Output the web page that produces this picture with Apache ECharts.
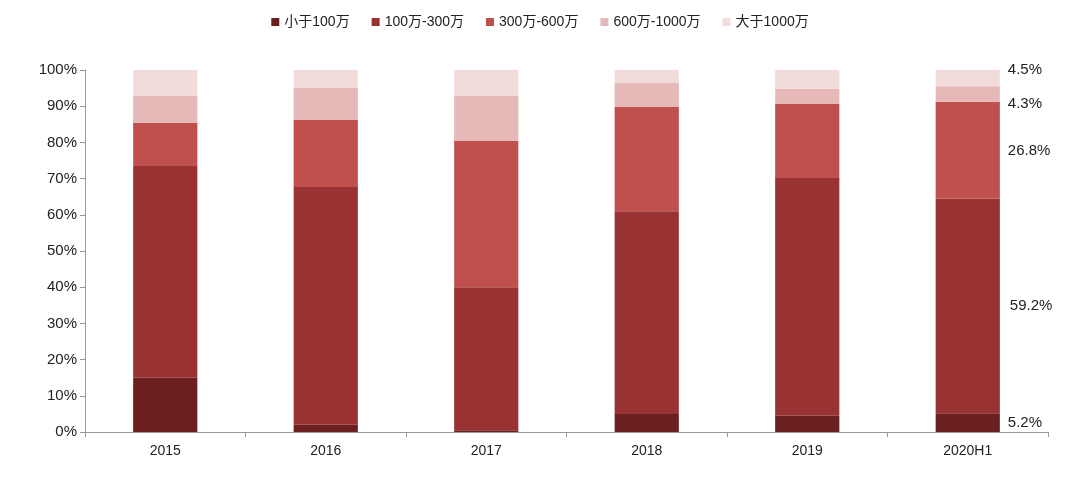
<!DOCTYPE html>
<html>
<head>
    <meta charset="utf-8">
    <script src="https://cdn.jsdelivr.net/npm/echarts@6/dist/echarts.min.js"></script>
</head>
<body style="margin:0">
    <div id="main" style="width:1080px;height:482px;"></div>
</body>
<script>
    var years = ['2015', '2016', '2017', '2018', '2019', '2020H1'];
    var names = ['小于100万', '100万-300万', '300万-600万', '600万-1000万', '大于1000万'];
    var colors = ['#6b1f1f', '#993333', '#c0504d', '#e6b9b8', '#f2dcdb'];
    var lt100 = [15, 2, 0.5, 5, 4.5, 5.2];
    var r100_300 = [58.5, 65.7, 39.5, 56, 65.7, 59.2];
    var r300_600 = [11.9, 18.5, 40.4, 28.8, 20.4, 26.8];
    var r600_1000 = [7.4, 8.8, 12.4, 6.6, 4.2, 4.3];
    var gt1000 = [7.2, 5, 7.2, 3.6, 5.2, 4.5];
    var values = [lt100, r100_300, r300_600, r600_1000, gt1000];

    var series = names.map(function(n, i) {
        return {
            name: n,
            type: 'bar',
            stack: 'a',
            barWidth: '40%',
            itemStyle: { color: colors[i] },
            data: values[i].map(function(v, j) {
                return {
                    value: v,
                    label: {
                        show: j === years.length - 1,
                        position: 'right',
                        distance: 8,
                        formatter: function(p) { return p.value.toFixed(1) + '%'; },
                        color: '#222',
                        fontSize: 15,
                        offset: i === 4 ? [0, -8] : (i === 3 ? [0, 10] : (i === 1 ? [2, 0] : [0, 0]))
                    }
                };
            })
        };
    });

    var myChart = echarts.init(document.getElementById('main'));
    myChart.setOption({
        animation: false,
        textStyle: { fontFamily: 'Liberation Sans, Noto Sans CJK SC, sans-serif' },
        legend: {
            top: 10,
            icon: 'rect',
            itemWidth: 8,
            itemHeight: 8,
            itemGap: 22,
            textStyle: { fontSize: 14, color: '#222' },
            data: names
        },
        grid: { left: 85, right: 32, top: 70, bottom: 50 },
        xAxis: {
            type: 'category',
            data: years,
            axisTick: { show: true, lineStyle: { color: '#999' } },
            axisLine: { lineStyle: { color: '#999' } },
            axisLabel: { color: '#222', fontSize: 14, margin: 12 }
        },
        yAxis: {
            type: 'value',
            min: 0,
            max: 100,
            interval: 10,
            splitLine: { show: false },
            axisLine: { show: true, lineStyle: { color: '#999' } },
            axisTick: { show: true, lineStyle: { color: '#999' } },
            axisLabel: { formatter: '{value}%', color: '#222', fontSize: 15 }
        },
        series: series
    });
</script>
</html>
